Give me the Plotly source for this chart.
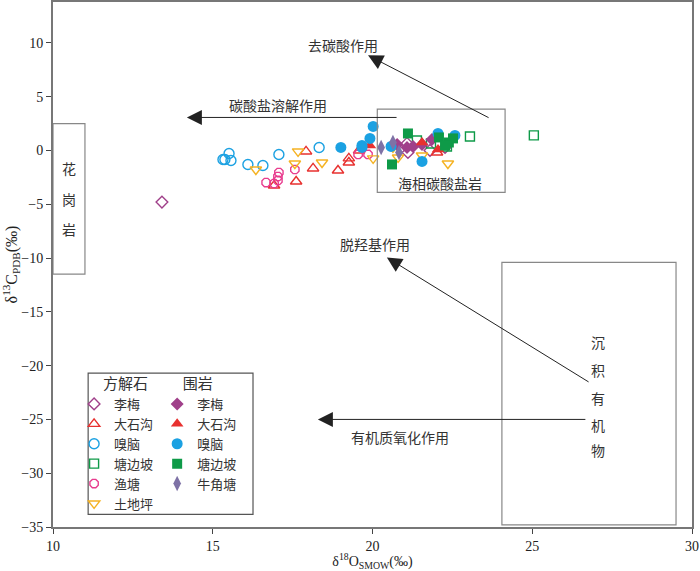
import plotly.graph_objects as go

# ---- data (δ18O SMOW, δ13C PDB) ----
limei_cal_x = [13.41, 21.08, 21.11, 21.80, 22.27]
limei_cal_y = [-4.8, 0.65, -0.19, 0.0, 0.28]
dsg_cal_x = [17.92, 17.61, 18.14, 18.92, 19.26, 19.26, 19.58, 16.92, 22.02]
dsg_cal_y = [-0.09, -2.88, -1.67, -1.86, -1.12, -0.74, 0.0, -3.26, -0.19]
xn_cal_x = [15.51, 15.38, 15.57, 15.32, 16.10, 16.57, 17.07, 18.33]
xn_cal_y = [-0.28, -0.84, -0.93, -0.84, -1.30, -1.40, -0.37, 0.28]
tbp_cal_x = [21.39, 21.83, 22.33, 23.05, 25.05]
tbp_cal_y = [0.93, 0.65, 0.37, 1.30, 1.40]
yt_cal_x = [16.67, 16.92, 17.04, 17.04, 17.07, 17.57, 19.55, 19.86]
yt_cal_y = [-2.98, -3.07, -2.79, -2.42, -2.05, -1.77, -0.37, -0.37]
tdp_cal_x = [16.35, 17.67, 17.57, 18.42, 20.02, 20.64, 20.80, 21.55, 22.36]
tdp_cal_y = [-1.77, -0.09, -1.21, -1.12, -0.74, 0.28, -0.65, -0.47, -1.21]

limei_wr_x = [20.77, 21.08, 21.27, 21.55, 21.86]
limei_wr_y = [0.56, 0.28, 0.37, 0.56, 1.02]
dsg_wr_x = [19.92, 21.55, 22.05]
dsg_wr_y = [0.47, 0.74, 0.09]
xn_wr_x = [19.01, 19.67, 20.02, 19.92, 19.67, 20.58, 22.05, 22.58, 21.55]
xn_wr_y = [0.28, 0.28, 2.23, 1.12, 0.47, 0.37, 1.58, 1.40, -1.02]
tbp_wr_x = [21.11, 20.61, 22.08, 22.39, 22.52, 22.27]
tbp_wr_y = [1.58, -1.30, 1.21, 0.74, 1.12, 0.47]
njt_wr_x = [20.27, 20.64, 20.83]
njt_wr_y = [0.28, 0.74, -0.19]

x_ticks = [10, 15, 20, 25, 30]
y_ticks = [-35, -30, -25, -20, -15, -10, -5, 0, 5, 10]
y_tick_text = ["−35", "−30", "−25", "−20", "−15", "−10", "−5", "0", "5", "10"]

C_LIMEI = "#A0408A"
C_DSG = "#E8312F"
C_XN = "#1BA1E2"
C_TBP = "#0E9A48"
C_YT = "#E83C8E"
C_TDP = "#F5B324"
C_NJT = "#7E72A6"

CJK = "Noto Sans CJK SC"
SERIF = "Liberation Serif"

fig = go.Figure()

def add(x, y, name, symbol, color, legend, size=10, filled=False):
    marker = dict(symbol=symbol, size=size, color=color)
    if not filled:
        marker["line"] = dict(color=color, width=1.4)
    else:
        marker["line"] = dict(width=0)
    fig.add_trace(go.Scatter(x=x, y=y, mode="markers", name=name,
                             marker=marker, legend=legend))

add(limei_cal_x, limei_cal_y, "李梅", "diamond-open", C_LIMEI, "legend", 9)
add(dsg_cal_x, dsg_cal_y, "大石沟", "triangle-up-open", C_DSG, "legend")
add(xn_cal_x, xn_cal_y, "嗅脑", "circle-open", C_XN, "legend")
add(tbp_cal_x, tbp_cal_y, "塘边坡", "square-open", C_TBP, "legend", 9)
add(yt_cal_x, yt_cal_y, "渔塘", "octagon-open", C_YT, "legend", 9)
add(tdp_cal_x, tdp_cal_y, "土地坪", "triangle-down-open", C_TDP, "legend")

add(limei_wr_x, limei_wr_y, "李梅", "diamond", C_LIMEI, "legend2", 10, True)
add(dsg_wr_x, dsg_wr_y, "大石沟", "triangle-up", C_DSG, "legend2", 11, True)
add(xn_wr_x, xn_wr_y, "嗅脑", "circle", C_XN, "legend2", 11, True)
add(tbp_wr_x, tbp_wr_y, "塘边坡", "square", C_TBP, "legend2", 10, True)
add(njt_wr_x, njt_wr_y, "牛角塘", "diamond-tall", C_NJT, "legend2", 11, True)

# ---- boxes ----
box_line = dict(color="#888888", width=1.2)
fig.add_shape(type="rect", x0=10, x1=11, y0=-11.5, y1=2.5, line=box_line)
fig.add_shape(type="rect", x0=20.15, x1=24.15, y0=-3.9, y1=3.85, line=box_line)
fig.add_shape(type="rect", x0=24.05, x1=29.5, y0=-34.8, y1=-10.4, line=box_line)
# legend frame
fig.add_shape(type="rect", xref="paper", yref="paper", x0=0.055, x1=0.313,
              y0=0.024, y1=0.293, line=dict(color="#555555", width=1.2))

anns = []
def txt(x, y, s, size=14):
    anns.append(dict(x=x, y=y, text=s, showarrow=False,
                     font=dict(family=CJK, size=size, color="#333333")))

for ch, yy in zip(["花", "岗", "岩"], [-1.67, -4.47, -7.26]):
    txt(10.5, yy, ch)
for ch, yy in zip(["沉", "积", "有", "机", "物"], [-17.8, -20.4, -23.0, -25.5, -27.8]):
    txt(27.06, yy, ch)
txt(19.08, 9.77, "去碳酸作用")
txt(17.04, 4.19, "碳酸盐溶解作用")
txt(22.11, -2.98, "海相碳酸盐岩")
txt(20.08, -8.74, "脱羟基作用")
txt(20.86, -26.6, "有机质氧化作用")

def arrow(hx, hy, tx, ty):
    anns.append(dict(x=hx, y=hy, ax=tx, ay=ty, axref="x", ayref="y",
                     xref="x", yref="y", text="", showarrow=True,
                     arrowhead=2, arrowsize=3, arrowwidth=1,
                     arrowcolor="#222222"))

arrow(19.86, 8.84, 23.68, 2.98)
arrow(14.19, 3.07, 20.80, 3.07)
arrow(20.45, -9.95, 26.81, -21.6)
arrow(18.29, -25.0, 26.71, -25.0)

fig.update_layout(
    width=700, height=571,
    margin=dict(l=53, r=8, t=2, b=44),
    paper_bgcolor="white", plot_bgcolor="white",
    annotations=anns,
    font=dict(family=SERIF, size=14, color="#222222"),
    legend=dict(x=0.033, y=0.30, xanchor="left", yanchor="top",
                bgcolor="rgba(0,0,0,0)",
                title=dict(text="        方解石", font=dict(family=CJK, size=15)),
                font=dict(family=CJK, size=13, color="#333333"),
                tracegroupgap=0, itemwidth=30),
    legend2=dict(x=0.163, y=0.30, xanchor="left", yanchor="top",
                 bgcolor="rgba(0,0,0,0)",
                 title=dict(text="       围岩", font=dict(family=CJK, size=15)),
                 font=dict(family=CJK, size=13, color="#333333"),
                 tracegroupgap=0, itemwidth=30),
    xaxis=dict(range=[10, 30], tickvals=x_ticks, ticks="outside", ticklen=5,
               showgrid=False, zeroline=False, showline=True, mirror=True,
               linecolor="#777777", linewidth=2, automargin=False,
               tickfont=dict(family=SERIF, size=14, color="#222222"),
               title=dict(text="δ<sup>18</sup>O<sub>SMOW</sub>(‰)",
                          font=dict(family=SERIF, size=14), standoff=2)),
    yaxis=dict(range=[-35, 13.8], tickvals=y_ticks, ticktext=y_tick_text,
               ticks="outside", ticklen=5, automargin=False,
               showgrid=False, zeroline=False, showline=True, mirror=True,
               linecolor="#777777", linewidth=2,
               tickfont=dict(family=SERIF, size=14, color="#222222"),
               title=dict(text="δ<sup>13</sup>C<sub>PDB</sub>(‰)",
                          font=dict(family=SERIF, size=16), standoff=2)),
)

fig.write_html("out.html", config={"displayModeBar": False},
               post_script="document.body.style.margin='0';document.body.style.padding='0';")
